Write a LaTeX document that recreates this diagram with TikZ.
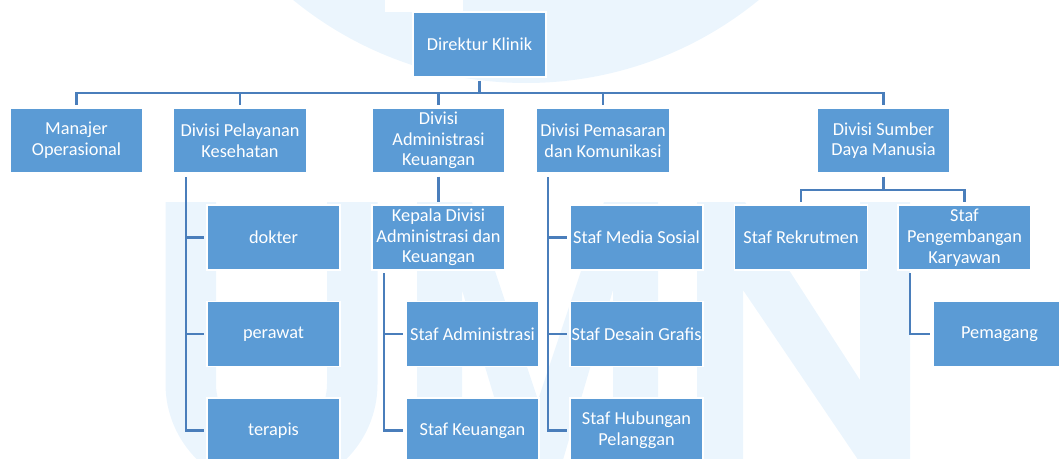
\documentclass[tikz,border=0pt]{standalone}
\usepackage{fontspec}
\setmainfont{Carlito}
\usetikzlibrary{calc}
\definecolor{boxfill}{RGB}{91,155,213}
\definecolor{linec}{RGB}{74,126,187}
\definecolor{wm}{RGB}{235,245,253}
\tikzset{
  box/.style={rectangle, fill=boxfill, draw=white, line width=1.5pt,
    minimum width=133pt, minimum height=65pt, inner sep=0pt, outer sep=3.5pt,
    align=center, text=white, font=\fontsize{18.3}{20.7}\selectfont},
  conn/.style={draw=linec, line width=2.8pt},
  wmark/.style={fill=wm, draw=none}
}
\begin{document}
\begin{tikzpicture}[x=1pt,y=-1pt]
\useasboundingbox (0,0) rectangle (1059,458);
\begin{scope}
\clip (0,0) rectangle (1059,458);
% watermark
\fill[wm] (526,-285) circle (368pt);
\fill[white] (385,0) rectangle (463,12);
\draw[wm, line width=50.5pt] (190.75,202) -- (190.75,384)
  arc[start angle=180, end angle=360, radius=80.75pt] -- (352.25,202);
\fill[wm] (417,202) -- (472,202) -- (538,400) -- (604,202) -- (658,202)
  -- (658,470) -- (613,470) -- (613,290) -- (560,470) -- (516,470)
  -- (462,290) -- (462,470) -- (417,470) -- cycle;
\fill[wm] (697,202) -- (745,202) -- (860,380) -- (860,202) -- (910,202)
  -- (910,470) -- (865,470) -- (743,290) -- (743,470) -- (697,470) -- cycle;

% boxes
\node[box] (dir) at (479.5,44.5) {Direktur Klinik};
\node[box] (man) at (76.5,140.5) {Manajer\\Operasional};
\node[box] (pel) at (240,140.5) {Divisi Pelayanan\\Kesehatan};
\node[box] (adm) at (438.5,140.5) {Divisi\\Administrasi\\Keuangan};
\node[box] (pem) at (603,140.5) {Divisi Pemasaran\\dan Komunikasi};
\node[box] (sdm) at (883.5,140.5) {Divisi Sumber\\Daya Manusia};

\node[box] (dok) at (273.5,237.5) {dokter};
\node[box] (per) at (273.5,334) {perawat};
\node[box] (ter) at (273.5,430.5) {terapis};

\node[box] (kep) at (438.5,237.5) {Kepala Divisi\\Administrasi dan\\Keuangan};
\node[box] (sad) at (472.5,334) {Staf Administrasi};
\node[box] (ske) at (472.5,430.5) {Staf Keuangan};

\node[box] (med) at (636.5,237.5) {Staf Media Sosial};
\node[box] (des) at (636.5,334) {Staf Desain Grafis};
\node[box] (hub) at (636.5,430.5) {Staf Hubungan\\Pelanggan};

\node[box] (rek) at (801,237.5) {Staf Rekrutmen};
\node[box] (pen) at (964.5,237.5) {Staf\\Pengembangan\\Karyawan};
\node[box] (mag) at (999.5,334) {Pemagang};

% connectors
\coordinate (bus) at (479.5,93);
\draw[conn] (dir.south) -- (bus);
\foreach \c in {man,pel,adm,pem,sdm} {\draw[conn] (\c.north) |- (bus);}

\coordinate (pelT) at (186,177);
\foreach \c in {dok,per,ter} {\draw[conn] (pelT) |- (\c.west);}

\draw[conn] (adm.south) -- (kep.north);
\coordinate (kepT) at (384,273);
\foreach \c in {sad,ske} {\draw[conn] (kepT) |- (\c.west);}

\coordinate (pemT) at (548,177);
\foreach \c in {med,des,hub} {\draw[conn] (pemT) |- (\c.west);}

\coordinate (sbus) at (883.5,190);
\draw[conn] (sdm.south) -- (sbus);
\foreach \c in {rek,pen} {\draw[conn] (\c.north) |- (sbus);}

\coordinate (penT) at (910,273);
\draw[conn] (penT) |- (mag.west);
\end{scope}
\end{tikzpicture}
\end{document}
